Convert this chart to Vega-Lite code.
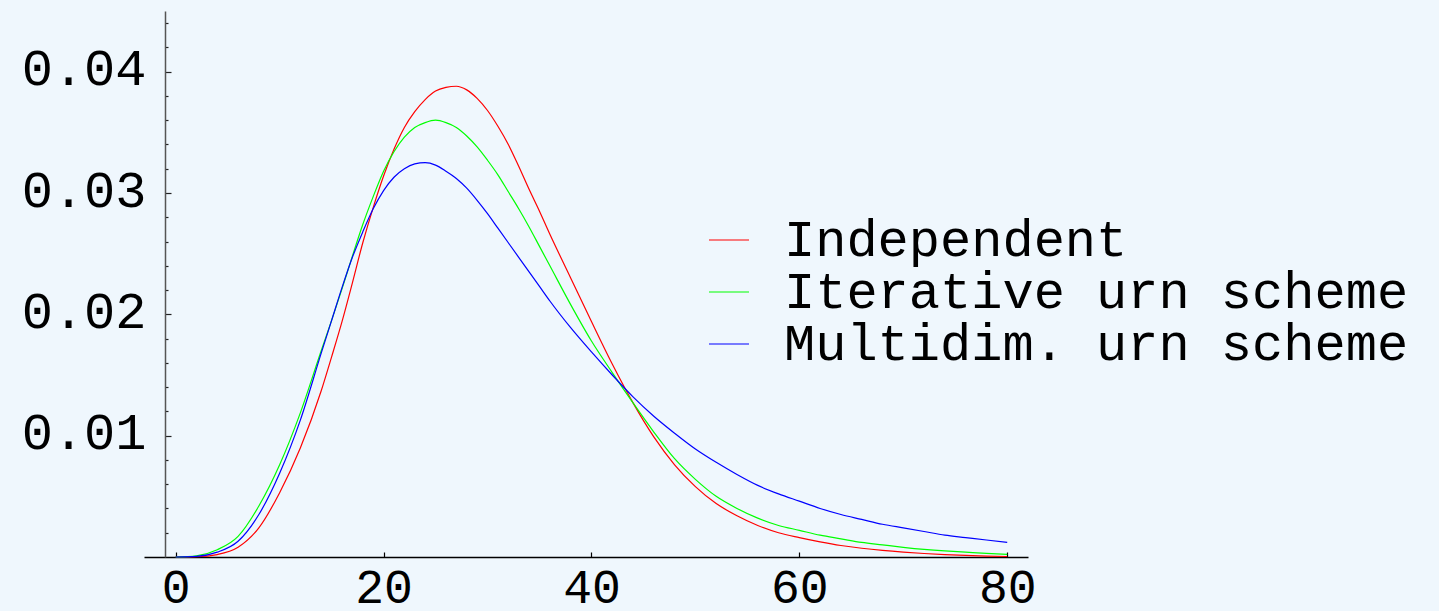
{
  "$schema": "https://vega.github.io/schema/vega-lite/v6.json",
  "width": 884,
  "height": 546,
  "autosize": "none",
  "padding": {"left": 144, "top": 11, "right": 411, "bottom": 54},
  "background": "#eff7fd",
  "config": {"view": {"stroke": null}, "font": "Liberation Mono"},
  "data": {"values": [
    {"x": 0, "ind": 0, "iter": 0, "multi": 0},
    {"x": 2, "ind": 0.00002, "iter": 0.0001, "multi": 0.00005},
    {"x": 4, "ind": 0.0002, "iter": 0.0006, "multi": 0.0004},
    {"x": 6, "ind": 0.0008, "iter": 0.0017, "multi": 0.0013},
    {"x": 8, "ind": 0.0024, "iter": 0.0042, "multi": 0.0035},
    {"x": 10, "ind": 0.0053, "iter": 0.0076, "multi": 0.0069},
    {"x": 12, "ind": 0.0090, "iter": 0.0119, "multi": 0.0113},
    {"x": 14, "ind": 0.0137, "iter": 0.0170, "multi": 0.0168},
    {"x": 15, "ind": 0.0165, "iter": 0.0195, "multi": 0.0195},
    {"x": 16, "ind": 0.0194, "iter": 0.0221, "multi": 0.0222},
    {"x": 17, "ind": 0.0226, "iter": 0.0248, "multi": 0.0247},
    {"x": 18, "ind": 0.0259, "iter": 0.0274, "multi": 0.0268},
    {"x": 19, "ind": 0.0288, "iter": 0.0297, "multi": 0.0287},
    {"x": 20, "ind": 0.0314, "iter": 0.0318, "multi": 0.0302},
    {"x": 21, "ind": 0.0336, "iter": 0.0334, "multi": 0.0313},
    {"x": 22, "ind": 0.0354, "iter": 0.0346, "multi": 0.0320},
    {"x": 23, "ind": 0.0367, "iter": 0.0354, "multi": 0.0324},
    {"x": 24, "ind": 0.0377, "iter": 0.0358, "multi": 0.0325},
    {"x": 25, "ind": 0.0384, "iter": 0.0360, "multi": 0.0323},
    {"x": 26, "ind": 0.0387, "iter": 0.0358, "multi": 0.0318},
    {"x": 27, "ind": 0.0388, "iter": 0.0354, "multi": 0.0312},
    {"x": 28, "ind": 0.0385, "iter": 0.0347, "multi": 0.0304},
    {"x": 29, "ind": 0.0378, "iter": 0.0338, "multi": 0.0294},
    {"x": 30, "ind": 0.0368, "iter": 0.0327, "multi": 0.0283},
    {"x": 31, "ind": 0.0355, "iter": 0.0315, "multi": 0.0271},
    {"x": 32, "ind": 0.0340, "iter": 0.0301, "multi": 0.0259},
    {"x": 33, "ind": 0.0322, "iter": 0.0287, "multi": 0.0247},
    {"x": 34, "ind": 0.0303, "iter": 0.0272, "multi": 0.0235},
    {"x": 35, "ind": 0.0285, "iter": 0.0256, "multi": 0.0223},
    {"x": 36, "ind": 0.0266, "iter": 0.0240, "multi": 0.0211},
    {"x": 38, "ind": 0.0230, "iter": 0.0208, "multi": 0.0189},
    {"x": 40, "ind": 0.0194, "iter": 0.0178, "multi": 0.0169},
    {"x": 42, "ind": 0.0159, "iter": 0.0152, "multi": 0.0150},
    {"x": 44, "ind": 0.0127, "iter": 0.0127, "multi": 0.0132},
    {"x": 46, "ind": 0.0099, "iter": 0.0103, "multi": 0.0116},
    {"x": 48, "ind": 0.0076, "iter": 0.0081, "multi": 0.0102},
    {"x": 50, "ind": 0.0058, "iter": 0.0064, "multi": 0.0089},
    {"x": 52, "ind": 0.0044, "iter": 0.0050, "multi": 0.0078},
    {"x": 54, "ind": 0.0034, "iter": 0.0040, "multi": 0.0068},
    {"x": 56, "ind": 0.0026, "iter": 0.0032, "multi": 0.0059},
    {"x": 58, "ind": 0.0020, "iter": 0.0026, "multi": 0.0052},
    {"x": 60, "ind": 0.0016, "iter": 0.0022, "multi": 0.0046},
    {"x": 62, "ind": 0.00125, "iter": 0.0018, "multi": 0.0040},
    {"x": 64, "ind": 0.00095, "iter": 0.0015, "multi": 0.0035},
    {"x": 66, "ind": 0.00072, "iter": 0.0012, "multi": 0.0031},
    {"x": 68, "ind": 0.00054, "iter": 0.0010, "multi": 0.0027},
    {"x": 70, "ind": 0.0004, "iter": 0.0008, "multi": 0.0024},
    {"x": 72, "ind": 0.00029, "iter": 0.00063, "multi": 0.0021},
    {"x": 74, "ind": 0.0002, "iter": 0.0005, "multi": 0.0018},
    {"x": 76, "ind": 0.00013, "iter": 0.0004, "multi": 0.0016},
    {"x": 78, "ind": 0.00008, "iter": 0.0003, "multi": 0.0014},
    {"x": 80, "ind": 0.00004, "iter": 0.00022, "multi": 0.0012}
  ]},
  "transform": [
    {"fold": ["ind", "iter", "multi"], "as": ["series", "y"]}
  ],
  "mark": {"type": "line", "interpolate": "monotone", "strokeWidth": 1.2},
  "encoding": {
    "x": {
      "field": "x", "type": "quantitative",
      "scale": {"domain": [-3.05, 82], "nice": false, "zero": false},
      "axis": {
        "title": null, "values": [0, 20, 40, 60, 80], "grid": false,
        "tickSize": -5, "tickColor": "#000", "tickWidth": 1.2,
        "domainColor": "#000", "domainWidth": 1.5,
        "labelFont": "Liberation Mono", "labelFontSize": 48, "labelColor": "#000",
        "labelPadding": 12, "labelFlush": false, "labelOverlap": false
      }
    },
    "y": {
      "field": "y", "type": "quantitative",
      "scale": {"domain": [0, 0.045], "nice": false},
      "axis": {
        "title": null, "grid": false, "offset": -21,
        "values": [0.002, 0.004, 0.006, 0.008, 0.01, 0.012, 0.014, 0.016, 0.018, 0.02, 0.022, 0.024, 0.026, 0.028, 0.03, 0.032, 0.034, 0.036, 0.038, 0.04, 0.042, 0.044],
        "tickSize": {"condition": {"test": "abs(datum.value*100 - round(datum.value*100)) < 0.001", "value": -6}, "value": -3},
        "tickColor": "#222", "tickWidth": 1.2,
        "domainColor": "#555", "domainWidth": 1.5,
        "labelExpr": "abs(datum.value*100 - round(datum.value*100)) < 0.001 ? format(datum.value, '.2f') : ''",
        "labelFont": "Liberation Mono", "labelFontSize": 52, "labelColor": "#000",
        "labelPadding": 25, "labelOffset": -3, "labelOverlap": false, "labelFlush": false
      }
    },
    "color": {
      "field": "series", "type": "nominal",
      "scale": {"domain": ["ind", "iter", "multi"], "range": ["#ff0000", "#00ff00", "#0000ff"]},
      "legend": {
        "orient": "none", "legendX": 559, "legendY": 203, "title": null,
        "labelExpr": "datum.value == 'ind' ? 'Independent' : datum.value == 'iter' ? 'Iterative urn scheme' : 'Multidim. urn scheme'",
        "symbolType": "stroke", "symbolSize": 1600, "symbolStrokeWidth": 1.2,
        "labelFont": "Liberation Mono", "labelFontSize": 52, "labelColor": "#000",
        "labelOffset": 29, "rowPadding": 0, "padding": 0, "labelLimit": 0
      }
    }
  }
}
